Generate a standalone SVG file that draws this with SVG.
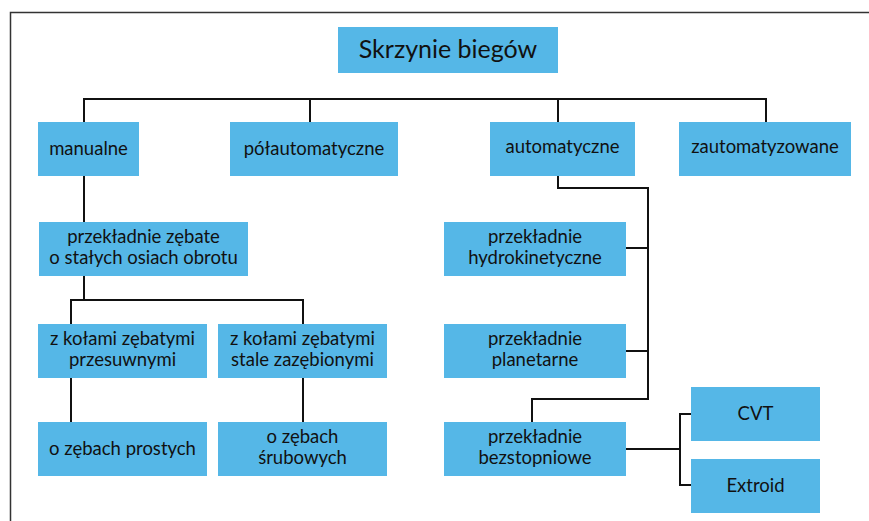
<svg xmlns="http://www.w3.org/2000/svg" width="869" height="521" viewBox="0 0 869 521">
<style>
.box{fill:#55B7E7;}
.t{font-family:Lato,"Open Sans","Liberation Sans",sans-serif;font-size:18.5px;fill:#111;text-anchor:middle;}
.title{font-size:25px;}
.c{fill:none;stroke:#111;stroke-width:2;}
.frame{fill:none;stroke:#333;stroke-width:1.5;}
</style>
<rect width="869" height="521" fill="#fff"/>
<path class="frame" d="M10.5,530 V12.5 H880"/>
<g id="connectors">
<path class="c" d="M84,122 V99 H766 V122"/>
<path class="c" d="M310,99 V122"/>
<path class="c" d="M558,99 V122"/>
<path class="c" d="M84,176 V222"/>
<path class="c" d="M84,276 V300"/>
<path class="c" d="M71,324 V300 H303 V324"/>
<path class="c" d="M71,378 V422"/>
<path class="c" d="M303,378 V422"/>
<path class="c" d="M558,176 V188 H648 V399 H532 V422"/>
<path class="c" d="M626,248 H648"/>
<path class="c" d="M626,351 H648"/>
<path class="c" d="M626,449 H680"/>
<path class="c" d="M691,414 H680 V485 H691"/>
</g>
<g id="n-skrzynie"><rect class="box" x="338" y="27" width="220" height="46"/><text class="t title" x="448" y="58">Skrzynie biegów</text></g>
<g id="n-manualne"><rect class="box" x="38" y="122" width="101" height="54"/><text class="t" x="88.5" y="155">manualne</text></g>
<g id="n-polautomatyczne"><rect class="box" x="230" y="122" width="168" height="54"/><text class="t" x="314" y="155">półautomatyczne</text></g>
<g id="n-automatyczne"><rect class="box" x="490" y="122" width="145" height="54"/><text class="t" x="562.5" y="153">automatyczne</text></g>
<g id="n-zautomatyzowane"><rect class="box" x="679" y="122" width="172" height="54"/><text class="t" x="765" y="153">zautomatyzowane</text></g>
<g id="n-zebate"><rect class="box" x="39" y="222" width="209" height="54"/><text class="t" x="143.5" y="243">przekładnie zębate</text><text class="t" x="143.5" y="264">o stałych osiach obrotu</text></g>
<g id="n-przesuwnymi"><rect class="box" x="38" y="324" width="169" height="54"/><text class="t" x="122.5" y="345">z kołami zębatymi</text><text class="t" x="122.5" y="366">przesuwnymi</text></g>
<g id="n-zazebionymi"><rect class="box" x="218" y="324" width="169" height="54"/><text class="t" x="302.5" y="345">z kołami zębatymi</text><text class="t" x="302.5" y="366">stale zazębionymi</text></g>
<g id="n-prostych"><rect class="box" x="38" y="422" width="169" height="54"/><text class="t" x="122.5" y="455">o zębach prostych</text></g>
<g id="n-srubowych"><rect class="box" x="218" y="422" width="169" height="54"/><text class="t" x="302.5" y="443">o zębach</text><text class="t" x="302.5" y="464">śrubowych</text></g>
<g id="n-hydrokinetyczne"><rect class="box" x="444" y="222" width="182" height="54"/><text class="t" x="535" y="243">przekładnie</text><text class="t" x="535" y="264">hydrokinetyczne</text></g>
<g id="n-planetarne"><rect class="box" x="444" y="324" width="182" height="54"/><text class="t" x="535" y="345">przekładnie</text><text class="t" x="535" y="366">planetarne</text></g>
<g id="n-bezstopniowe"><rect class="box" x="444" y="422" width="182" height="54"/><text class="t" x="535" y="443">przekładnie</text><text class="t" x="535" y="464">bezstopniowe</text></g>
<g id="n-cvt"><rect class="box" x="691" y="387" width="129" height="54"/><text class="t" x="755.5" y="420">CVT</text></g>
<g id="n-extroid"><rect class="box" x="691" y="459" width="129" height="54"/><text class="t" x="755.5" y="492">Extroid</text></g>
</svg>
